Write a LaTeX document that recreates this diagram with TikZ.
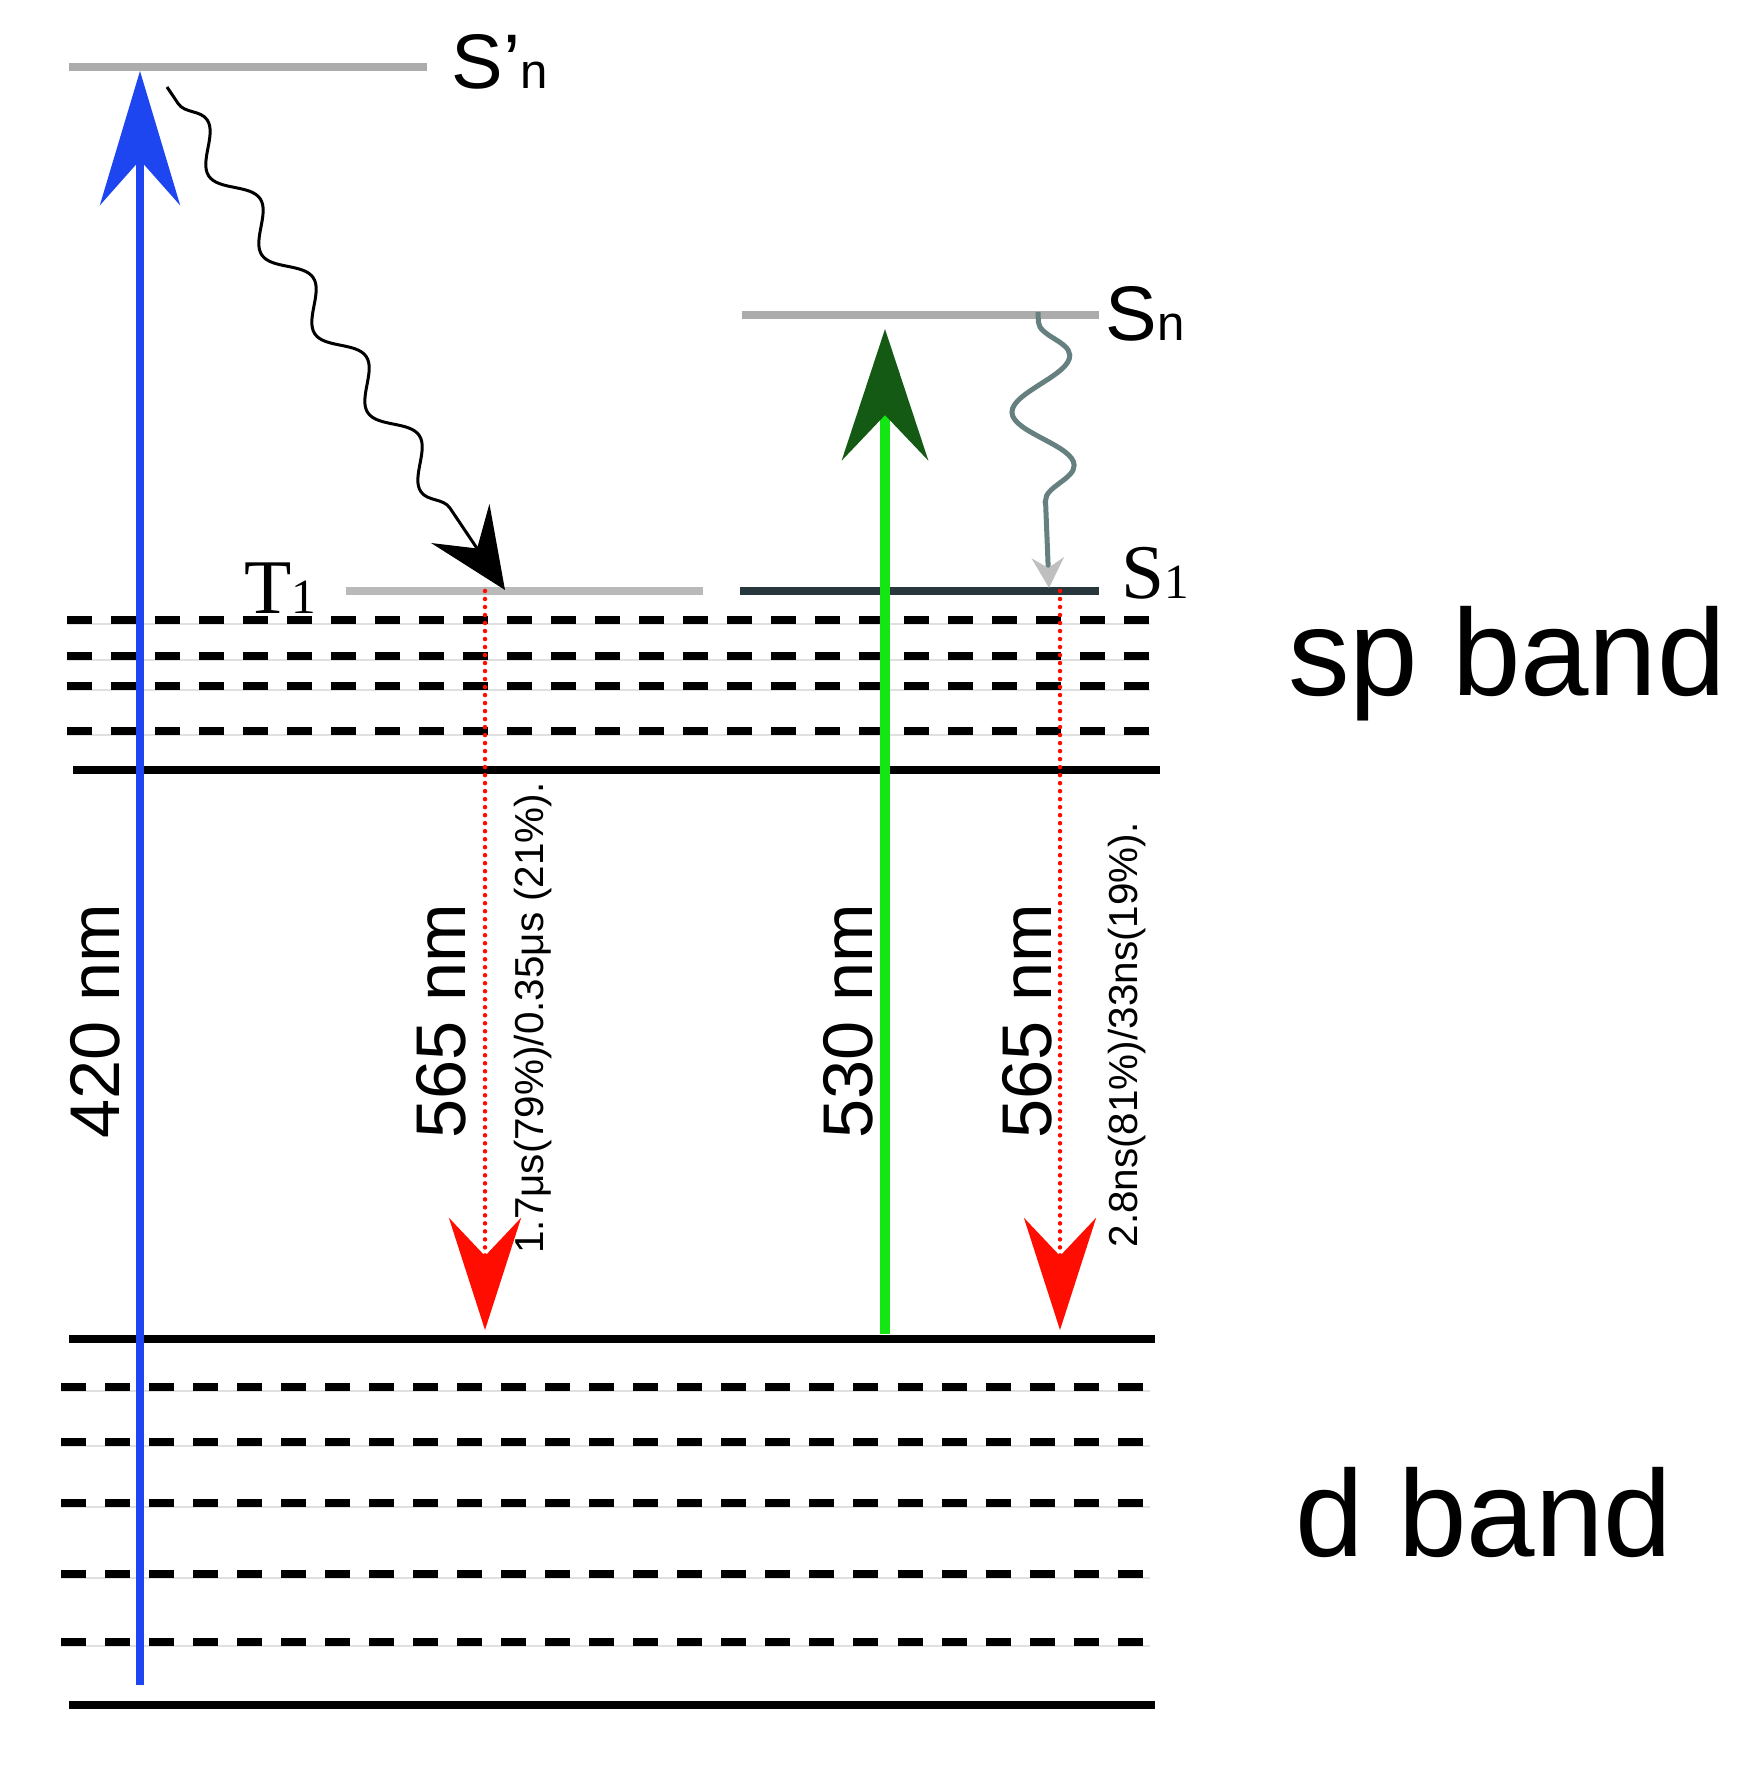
\documentclass[tikz,border=0pt]{standalone}
\usepackage{fontspec}
\setmainfont{Liberation Sans}
\newfontfamily\serifx{Liberation Serif}
\usetikzlibrary{arrows.meta,decorations.pathmorphing}
\begin{document}
\begin{tikzpicture}[x=0.01cm,y=-0.01cm,
  lev/.style={line width=0.075cm},
  dsh/.style={line width=0.08cm,dash pattern=on 0.25cm off 0.19cm},
  faint/.style={line width=0.015cm,black!12},
  lbl/.style={font=\fontsize{20}{20}\selectfont,rotate=90,inner sep=0},
  sml/.style={font=\fontsize{11.5}{12}\selectfont,rotate=90,inner sep=0},
  big/.style={font=\fontsize{35}{35}\selectfont,inner sep=0},
  sub/.style={font=\fontsize{22}{22}\selectfont}]
\useasboundingbox (0,0) rectangle (1741,1786);
% levels
\draw[lev,color=gray!65] (69,67) -- (427,67);
\draw[lev,color=gray!65] (742,315) -- (1099,315);
\draw[lev,color=gray!55] (346,591) -- (703,591);
\draw[lev,color={rgb,255:red,40;green,55;blue,60}] (740,591) -- (1099,591);
\node[sub] (spn) at (500,62) {S’{\fontsize{14}{14}\selectfont n}};
\node[sub] (sn) at (1145,314) {S{\fontsize{14}{14}\selectfont n}};
\node[sub,font=\serifx\fontsize{22}{22}\selectfont] (t1) at (280,588) {T{\fontsize{14}{14}\selectfont 1}};
\node[sub,font=\serifx\fontsize{22}{22}\selectfont] (s1) at (1155,573) {S{\fontsize{14}{14}\selectfont 1}};
% bands
\foreach \y in {620,656,686,731} {\draw[faint] (67,\y+4) -- (1150,\y+4); \draw[dsh] (67,\y) -- (1150,\y);}
\draw[lev] (73,770) -- (1160,770);
\draw[lev] (69,1339) -- (1155,1339);
\foreach \y in {1387,1442,1503,1574,1642} {\draw[faint] (61,\y+4) -- (1150,\y+4); \draw[dsh] (61,\y) -- (1150,\y);}
\draw[lev] (69,1705) -- (1155,1705);
% coordinates
\coordinate (b0) at (140,1685); \coordinate (b1) at (140,71);
\coordinate (g0) at (885,1334); \coordinate (g1) at (885,329);
\coordinate (r10) at (485,591); \coordinate (r11) at (485,1330);
\coordinate (r20) at (1060,591); \coordinate (r21) at (1060,1330);
\coordinate (w0) at (167,87); \coordinate (w1) at (505,590);
\coordinate (v0) at (1038,312); \coordinate (v1) at (1049,588);
% arrows
\draw[line width=0.075cm,color={rgb,255:red,30;green,70;blue,240},-{Stealth[length=1.34cm,width=0.8cm,inset=0.45cm]}] (b0) -- (b1);
\draw[line width=0.1cm,color={rgb,255:red,20;green,230;blue,20}] (g0) -- (885,420);
\draw[line width=0.1cm,color={rgb,255:red,20;green,230;blue,20},-{Stealth[length=1.31cm,width=0.86cm,inset=0.45cm,color={rgb,255:red,20;green,90;blue,20}]}] (885,420) -- (g1);
\draw[line width=0.045cm,red!90!orange,dash pattern=on 0cm off 0.08cm,line cap=round,-{Stealth[length=1.12cm,width=0.72cm,inset=0.38cm,fill=red!90!orange,line cap=butt]}] (r10) -- (r11);
\draw[line width=0.045cm,red!90!orange,dash pattern=on 0cm off 0.08cm,line cap=round,-{Stealth[length=1.12cm,width=0.72cm,inset=0.38cm,fill=red!90!orange,line cap=butt]}] (r20) -- (r21);
\draw[line width=0.03cm,decorate,decoration={snake,amplitude=0.15cm,segment length=0.95cm,pre length=0.2cm,post length=0.7cm},-{Stealth[length=0.8cm,width=0.7cm,inset=0.3cm]}] (w0) -- (w1);
\draw[line width=0.05cm,color=gray!80!teal,decorate,decoration={snake,amplitude=0.3cm,segment length=1.1cm,pre length=0.1cm,post length=0.35cm},-{Stealth[length=0.3cm,width=0.32cm,inset=0.1cm,color=gray!50]}] (v0) -- (v1);
% labels
\node[lbl] (l1) at (95,1021) {420 nm};
\node[lbl] (l2) at (441,1021) {565 nm};
\node[lbl] (l3) at (848,1021) {530 nm};
\node[lbl] (l4) at (1027,1021) {565 nm};
\node[sml] (m1) at (533,1018) {1.7μs(79\%)/0.35μs (21\%).};
\node[sml] (m2) at (1127,1035) {2.8ns(81\%)/33ns(19\%).};
\node[big] (sp) at (1507,664) {sp band};
\node[big] (d) at (1484,1512) {d band};
\end{tikzpicture}
\end{document}
